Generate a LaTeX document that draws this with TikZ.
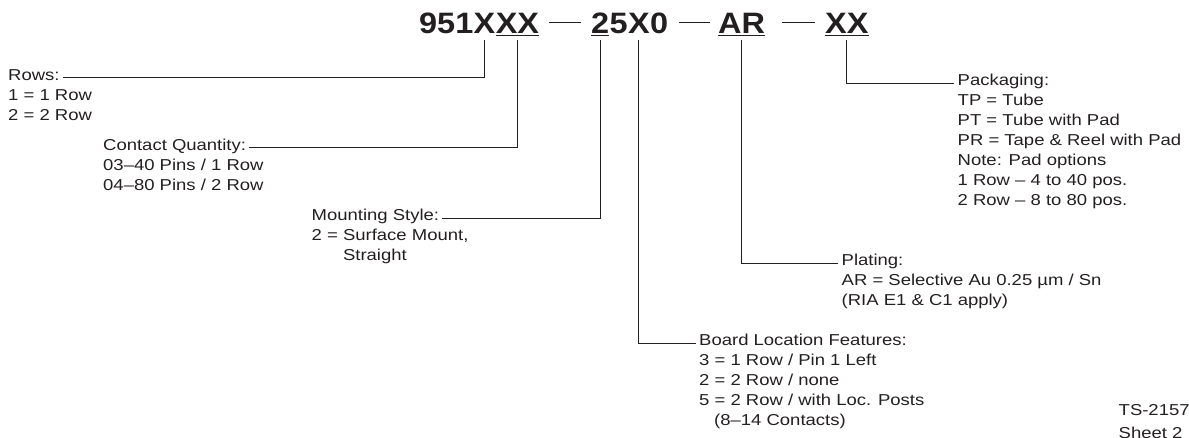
\documentclass[tikz,border=0pt]{standalone}
\usepackage{fontspec}
\setmainfont{Liberation Sans}
\newfontfamily\hdrfont[FakeStretch=1.1]{Liberation Sans}
\newfontfamily\bodyfont[FakeStretch=1.17]{Liberation Sans}
\definecolor{ink}{RGB}{35,31,32}
\tikzset{
  hdr/.style={inner sep=0pt, anchor=base west, text=ink, font=\hdrfont\bfseries\fontsize{29.5}{30}\selectfont},
  lbl/.style={inner sep=0pt, anchor=base west, text=ink, font=\bodyfont\fontsize{15.8}{20}\selectfont},
  conn/.style={draw=ink, line width=0.9pt},
  uline/.style={draw=ink, line width=1.3pt},
  dashln/.style={draw=ink, line width=1pt}
}
\begin{document}
\begin{tikzpicture}[x=1pt,y=1pt]
\useasboundingbox (0,0) rectangle (1189,-437);
% header
\node[hdr] (h951) at (419,-33) {951};
\node[hdr] (hX) at (h951.base east) {X};
\node[hdr] (hXX) at (hX.base east) {XX};
\node[hdr] (h2) at (591,-33) {2};
\node[hdr] (h5) at (h2.base east) {5};
\node[hdr] (hX2) at (h5.base east) {X};
\node[hdr] (h0) at (hX2.base east) {0};
\node[hdr] (hAR) at (718,-33) {AR};
\node[hdr] (hXX2) at (825,-33) {XX};
\coordinate (top) at (0,-40);
% underlines
\draw[uline] ([yshift=-2.3pt]hXX.base west) -- ([yshift=-2.3pt]hXX.base east);
\draw[uline] ([yshift=-2.3pt]h2.base west) -- ([yshift=-2.3pt]h2.base east);
\draw[uline] ([yshift=-2.3pt]hAR.base west) -- ([yshift=-2.3pt]hAR.base east);
\draw[uline] ([yshift=-2.3pt]hXX2.base west) -- ([yshift=-2.3pt]hXX2.base east);
% dashes
\draw[dashln] ([xshift=10pt,yshift=11pt]hXX.base east) -- ([xshift=-10pt,yshift=11pt]h2.base west);
\draw[dashln] ([xshift=11pt,yshift=11pt]h0.base east) -- ([xshift=-8pt,yshift=11pt]hAR.base west);
\draw[dashln] ([xshift=17pt,yshift=11pt]hAR.base east) -- ([xshift=-10pt,yshift=11pt]hXX2.base west);
% Rows
\node[lbl] (rows) at (8,-80) {Rows:};
\node[lbl] (rows1) at (8,-100) {1 = 1 Row};
\node[lbl] (rows2) at (8,-120) {2 = 2 Row};
% Contact Quantity
\node[lbl] (cq) at (103,-150) {Contact Quantity:};
\node[lbl] (cq1) at (103,-170) {03–40 Pins / 1 Row};
\node[lbl] (cq2) at (103,-190) {04–80 Pins / 2 Row};
% Mounting
\node[lbl] (ms) at (311.5,-220.5) {Mounting Style:};
\node[lbl] (ms1) at (311.5,-240.5) {2 = Surface Mount,};
\node[lbl] (ms2) at (311.5,-260.5) {\hphantom{2 = }Straight};
% Packaging
\node[lbl] (pk) at (957.5,-85.5) {Packaging:};
\node[lbl] (pk1) at (957.5,-105.5) {TP = Tube};
\node[lbl] (pk2) at (957.5,-125.5) {PT = Tube with Pad};
\node[lbl] (pk3) at (957.5,-145.5) {PR = Tape \& Reel with Pad};
\node[lbl] (pk4) at (957.5,-165.5) {Note: Pad options};
\node[lbl] (pk5) at (957.5,-185.5) {1 Row – 4 to 40 pos.};
\node[lbl] (pk6) at (957.5,-205.5) {2 Row – 8 to 80 pos.};
% Plating
\node[lbl] (pl) at (841.5,-265.5) {Plating:};
\node[lbl] (pl1) at (841.5,-285.5) {AR = Selective Au 0.25 µm / Sn};
\node[lbl] (pl2) at (841.5,-305.5) {(RIA E1 \& C1 apply)};
% Board Location
\node[lbl] (bl) at (699,-345.5) {Board Location Features:};
\node[lbl] (bl1) at (699,-365.5) {3 = 1 Row / Pin 1 Left};
\node[lbl] (bl2) at (699,-385.5) {2 = 2 Row / none};
\node[lbl] (bl3) at (699,-405.5) {5 = 2 Row / with Loc. Posts};
\node[lbl] (bl4) at (699,-425.5) {\hspace{15pt}(8–14 Contacts)};
% Sheet id
\node[lbl] (ts) at (1118.5,-415) {TS-2157};
\node[lbl] (sh) at (1118.5,-438) {Sheet 2};
% connectors
\draw[conn] (hX |- top) |- ([xshift=3pt,yshift=2.5pt]rows.base east);
\draw[conn] (hXX |- top) |- ([xshift=3pt,yshift=2.5pt]cq.base east);
\draw[conn] (h2 |- top) |- ([xshift=3pt,yshift=2.5pt]ms.base east);
\draw[conn] (hX2 |- top) |- ([xshift=-3pt,yshift=2.5pt]bl.base west);
\draw[conn] (hAR |- top) |- ([xshift=-4pt,yshift=2.5pt]pl.base west);
\draw[conn] (hXX2 |- top) |- ([xshift=-4pt,yshift=2.5pt]pk.base west);
\end{tikzpicture}
\end{document}
